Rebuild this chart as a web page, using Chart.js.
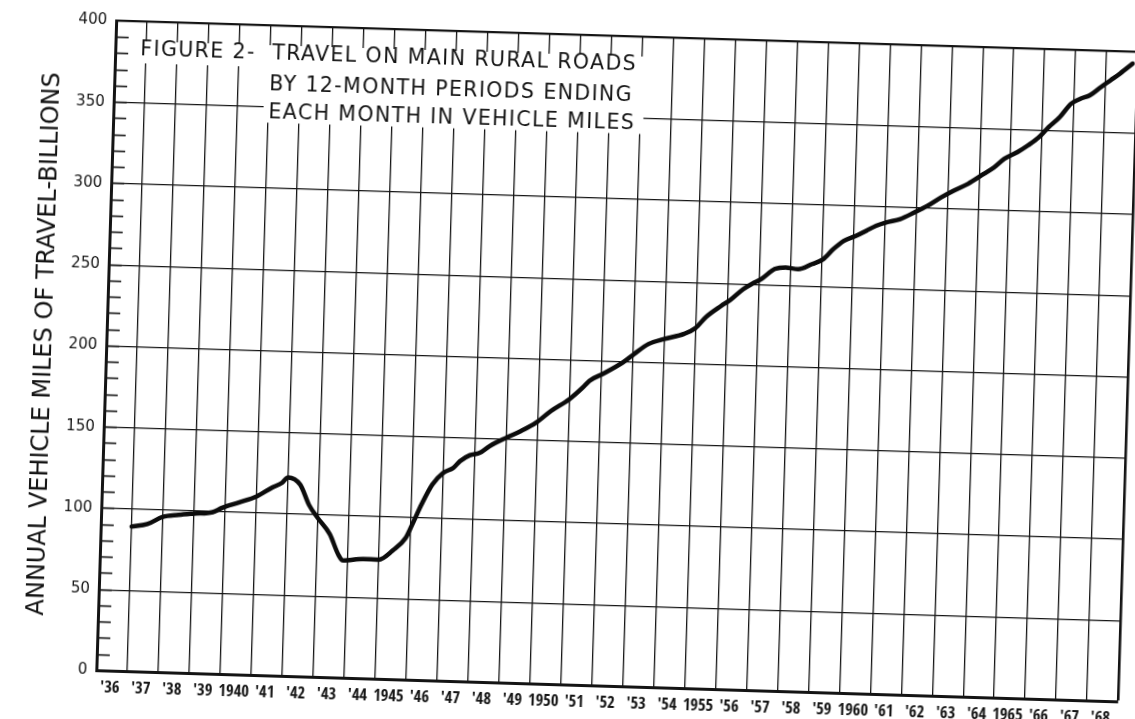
<!DOCTYPE html>
<html>
<head>
<meta charset="utf-8">
<script src="https://cdn.jsdelivr.net/npm/chart.js@4.4.1/dist/chart.umd.min.js"></script>
<style>
html,body{margin:0;padding:0;background:#fff;overflow:hidden;width:1135px;height:719px;}
#wrap{position:absolute;left:0;top:0;width:1135px;height:719px;transform:rotate(1.75deg);transform-origin:619px 361.5px;}
canvas{display:block;}
</style>
</head>
<body>
<div id="wrap"><canvas id="c" width="1135" height="719"></canvas></div>
<script>
// ---- data (12-month periods ending each month) ----
const years = [1937.0, 1937.5, 1938.0, 1938.5, 1939.0, 1939.6, 1939.9, 1940.45, 1941.0, 1941.5,
  1941.8, 1942.0, 1942.4, 1942.7, 1943.0, 1943.4, 1943.7, 1943.85, 1944.5, 1945.0,
  1945.45, 1945.85, 1946.05, 1946.33, 1946.66, 1947.0, 1947.32, 1947.53, 1947.85, 1948.16,
  1948.47, 1949.0, 1949.47, 1949.95, 1950.42, 1951.0, 1951.42, 1951.63, 1952.05, 1952.7,
  1953.05, 1953.5, 1954.0, 1954.64, 1955.0, 1955.33, 1955.8, 1956.1, 1956.5, 1956.8,
  1957.07, 1957.5, 1957.85, 1958.25, 1958.7, 1959.05, 1959.37, 1959.7, 1960.1, 1960.42,
  1960.73, 1961.05, 1961.5, 1961.95, 1962.37, 1962.8, 1963.2, 1963.65, 1964.15, 1964.48,
  1964.8, 1965.22, 1965.55, 1965.9, 1966.2, 1966.55, 1966.9, 1967.2, 1967.5, 1967.85,
  1968.15, 1968.45, 1968.85];
const travel = [89.3, 91.1, 95.9, 97.4, 98.5, 99.7, 102.5, 106.2, 110.2, 116,
  118.9, 122.5, 118.2, 106, 98, 88.4, 75.8, 72.4, 73.7, 73.6,
  79.5, 87.4, 95.8, 108.3, 120.8, 128.2, 131.4, 135.7, 139.6, 141.2,
  145.5, 151, 155.4, 160.8, 168.3, 175.9, 183.3, 187.6, 192, 199.6,
  204.9, 211.3, 214.7, 218.2, 222, 229, 236, 240, 246.8, 250.5,
  253.3, 259.8, 261, 260.1, 263.5, 266.7, 273.1, 278.4, 281.8, 285.1,
  288.3, 290.6, 292.9, 297.2, 301.6, 307, 311.4, 315.8, 322.2, 326.5,
  331.9, 336.3, 340.6, 345.9, 352.2, 358.6, 367, 370.3, 372.6, 377.9,
  382.2, 386.5, 392.9];

const gridYears = [1936, 1937, 1938, 1939, 1940, 1941, 1942, 1943, 1944, 1945, 1946, 1947,
  1948, 1949, 1950, 1951, 1952, 1953, 1954, 1955, 1956, 1957, 1958, 1959, 1960, 1961,
  1962, 1963, 1964, 1965, 1966, 1967, 1968, 1969];
const xTickLabels = ["'36", "'37", "'38", "'39", "1940", "'41", "'42", "'43", "'44", "1945",
  "'46", "'47", "'48", "'49", "1950", "'51", "'52", "'53", "'54", "1955", "'56", "'57",
  "'58", "'59", "1960", "'61", "'62", "'63", "'64", "1965", "'66", "'67", "'68"];
const yTickLabels = ['0', '50', '100', '150', '200', '250', '300', '350', '400'];
const yAxisTitle = 'ANNUAL VEHICLE MILES OF TRAVEL-BILLIONS';
const figLabel = 'FIGURE 2-';
const figLines = ['TRAVEL ON MAIN RURAL ROADS', 'BY 12-MONTH PERIODS ENDING', 'EACH MONTH IN VEHICLE MILES'];

const INK = '#141414';

const titleBox = {
  id: 'titleBox',
  beforeDatasetsDraw(chart) {
    const {ctx, chartArea: a} = chart;
    ctx.save();
    ctx.font = '20.5px "DejaVu Sans"';
    try { ctx.letterSpacing = '1.4px'; } catch (e) {}
    const xFig = a.left + 25;
    const xText = a.left + 155;
    const ys = [a.top + 28.5, a.top + 59.5, a.top + 87];
    let maxW = 0;
    figLines.forEach(t => { maxW = Math.max(maxW, ctx.measureText(t).width); });
    const right = xText + maxW + 8;
    ctx.fillStyle = '#ffffff';
    ctx.fillRect(a.left + 19, a.top + 19.5, right - (a.left + 19), 22);
    ctx.fillRect(xText - 5, a.top + 41, right - (xText - 5), 56);
    ctx.fillStyle = INK;
    ctx.textBaseline = 'middle';
    ctx.textAlign = 'left';
    ctx.fillText(figLabel, xFig, ys[0]);
    figLines.forEach((t, i) => ctx.fillText(t, xText + (i === 0 ? 2 : 0), ys[i]));
    ctx.restore();
  }
};

new Chart(document.getElementById('c'), {
  type: 'line',
  data: {
    datasets: [{
      data: years.map((x, i) => ({x: x, y: travel[i]})),
      borderColor: '#0c0c0c',
      borderWidth: 4.5,
      pointRadius: 0,
      cubicInterpolationMode: 'monotone',
      borderCapStyle: 'round',
      borderJoinStyle: 'round',
      fill: false
    }]
  },
  options: {
    responsive: false,
    devicePixelRatio: 1,
    animation: false,
    layout: {padding: {top: 36.5, right: 3, bottom: 0, left: 0}},
    plugins: {legend: {display: false}, tooltip: {enabled: false}},
    scales: {
      x: {
        type: 'linear',
        min: 1936,
        max: 1969,
        afterBuildTicks: s => { s.ticks = gridYears.map(v => ({value: v})); },
        afterFit: s => { s.height = 32.5; },
        grid: {
          color: INK,
          lineWidth: c => (c.tick && c.tick.value === 1969) ? 2.6 : 1.3,
          drawTicks: false
        },
        border: {display: true, color: INK, width: 3},
        ticks: {
          autoSkip: false,
          maxRotation: 0,
          minRotation: 0,
          padding: 7,
          labelOffset: 14,
          color: INK,
          font: {family: "'Open Sans Condensed', 'Roboto Condensed', sans-serif", size: 16.5, weight: 'bold'},
          callback: (v, i) => xTickLabels[i] !== undefined ? xTickLabels[i] : ''
        }
      },
      y: {
        min: 0,
        max: 400,
        afterFit: s => { s.width = 106; },
        grid: {
          color: c => (c.tick && c.tick.value % 50 === 0) ? INK : 'rgba(0,0,0,0)',
          lineWidth: c => (c.tick && c.tick.value === 400) ? 2.2 : 1.3,
          drawTicks: true,
          tickLength: -13,
          tickColor: INK,
          tickWidth: 1.6
        },
        border: {display: true, color: INK, width: 3},
        ticks: {
          stepSize: 10,
          maxTicksLimit: 60,
          autoSkip: false,
          padding: 22,
          color: INK,
          font: {family: "'DejaVu Sans', sans-serif", size: 15},
          callback: v => (v % 50 === 0) ? yTickLabels[v / 50] : ''
        },
        title: {
          display: true,
          text: yAxisTitle,
          color: INK,
          font: {family: "'DejaVu Sans', sans-serif", size: 24},
          padding: {top: 30, bottom: 0}
        }
      }
    }
  },
  plugins: [titleBox]
});
</script>
</body>
</html>
